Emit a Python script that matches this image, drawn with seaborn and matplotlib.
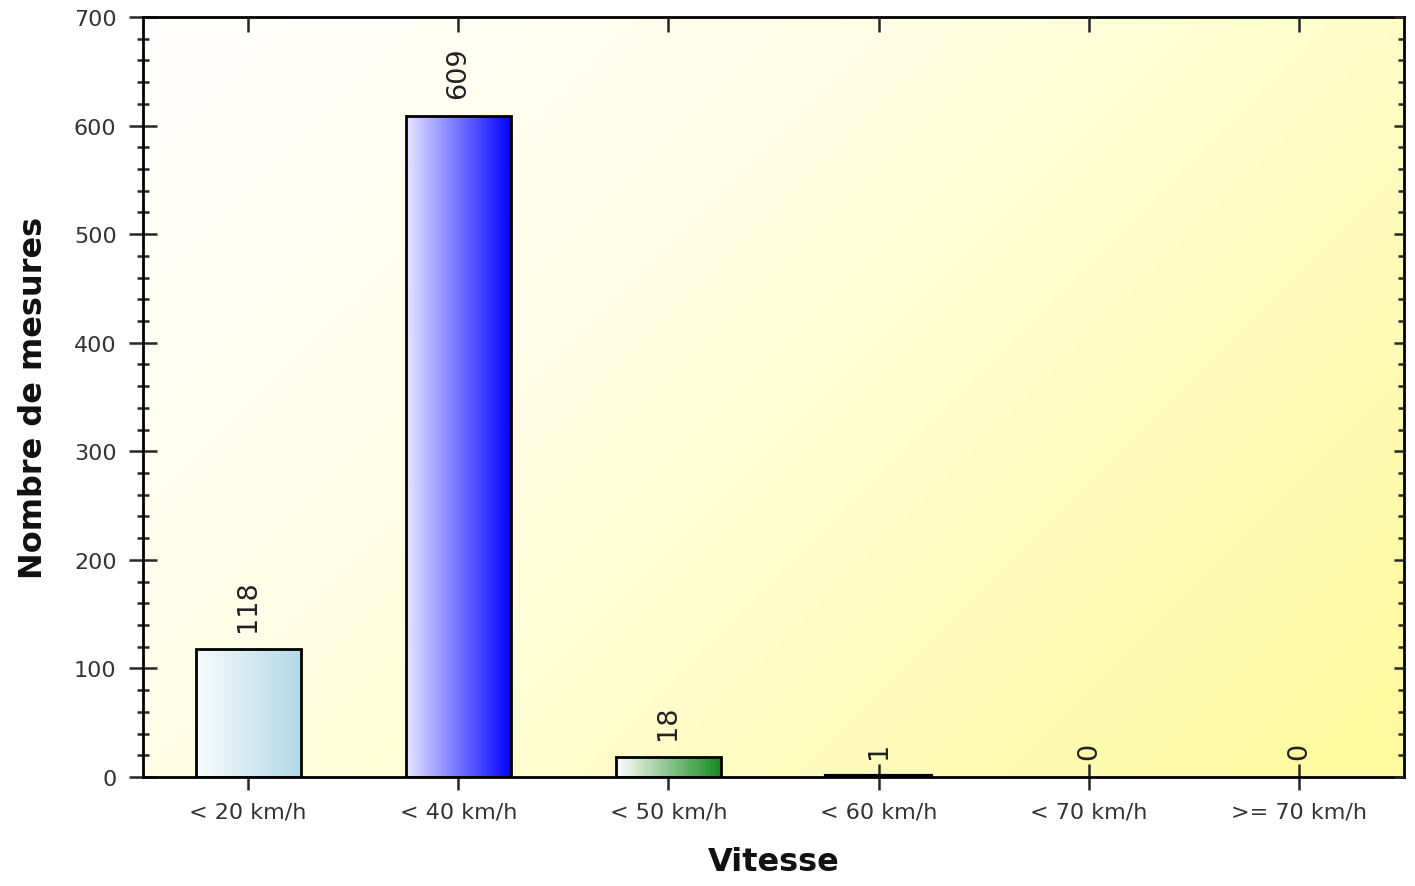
import numpy as np
import pandas as pd
import seaborn as sns
import matplotlib.pyplot as plt
from matplotlib.colors import LinearSegmentedColormap
from matplotlib.ticker import MultipleLocator

# data
categories = ["< 20 km/h", "< 40 km/h", "< 50 km/h", "< 60 km/h", "< 70 km/h", ">= 70 km/h"]
counts = [118, 609, 18, 1, 0, 0]

# gradient (left colour, right colour) for each bar
bar_gradients = [
    ("#f7fbfc", "#b2d9e5"),
    ("#e6e6ff", "#0000ff"),
    ("#ffffff", "#138a1e"),
    ("#333333", "#000000"),
    ("#ffffff", "#ffffff"),
    ("#ffffff", "#ffffff"),
]

sns.set_style("ticks")
plt.rcParams["font.family"] = ["DejaVu Sans"]

df = pd.DataFrame({"Vitesse": categories, "Nombre": counts})

fig = plt.figure(figsize=(14.15, 8.87), dpi=100)
ax = fig.add_axes([143 / 1415, 1 - 778 / 887, (1404 - 143) / 1415, (778 - 18) / 887])

sns.barplot(data=df, x="Vitesse", y="Nombre", ax=ax, width=0.5,
            edgecolor="black", linewidth=2)

xlim = (-0.5, len(categories) - 0.5)
ylim = (0, 700)

# background: white top-left to yellow bottom-right (diagonal in pixel space)
pw, ph = 1261, 760
gx, gy = np.meshgrid(np.linspace(0, pw, 400), np.linspace(0, ph, 300))
bg = (gx + (ph - gy)) / (pw + ph)
bg_cmap = LinearSegmentedColormap.from_list(
    "bg", [(0, "#ffffff"), (0.35, "#fffee8"), (0.6, "#fefdca"), (1, "#fff99c")])
ax.imshow(bg, extent=(0, 1, 0, 1), origin="lower", transform=ax.transAxes,
          cmap=bg_cmap, aspect="auto", zorder=0.5)

# horizontal gradient inside each bar
grad = np.linspace(0, 1, 256).reshape(1, -1)
for patch, (c0, c1), v in zip(ax.patches, bar_gradients, counts):
    patch.set_facecolor("none")
    patch.set_zorder(1.2)
    if v == 0:
        patch.set_linewidth(0)
        continue
    if v < 5:
        patch.set_linewidth(3)
    x0, y0 = patch.get_x(), patch.get_y()
    w, h = patch.get_width(), patch.get_height()
    cmap = LinearSegmentedColormap.from_list("bar", [c0, c1])
    im = ax.imshow(grad, extent=(x0, x0 + w, y0, y0 + h), aspect="auto",
                   cmap=cmap, zorder=1.1)
    im.set_clip_path(patch)

ax.set_xlim(*xlim)
ax.set_ylim(*ylim)

ax.bar_label(ax.containers[0], labels=[str(v) for v in counts], rotation=90,
             padding=13, fontsize=19.5, color="#222222")

# axes styling
for side in ["left", "right", "top", "bottom"]:
    ax.spines[side].set_visible(True)
    ax.spines[side].set_linewidth(2)
    ax.spines[side].set_color("black")
    ax.spines[side].set_zorder(3)

ax.yaxis.set_major_locator(MultipleLocator(100))
ax.yaxis.set_minor_locator(MultipleLocator(20))
ax.tick_params(axis="y", which="major", direction="inout", length=20, width=1.8,
               labelsize=16, labelcolor="#333333", pad=9)
ax.tick_params(axis="y", which="minor", direction="inout", length=9, width=1.8)
ax.tick_params(axis="x", which="major", direction="inout", length=19, width=1.8,
               labelsize=16, labelcolor="#333333", pad=8)

ax.set_xlabel("Vitesse", fontsize=23, fontweight="bold", labelpad=18, color="#111111")
ax.set_ylabel("Nombre de mesures", fontsize=23, fontweight="bold", labelpad=18, color="#111111")

# inner ticks on top and right
ax_top = ax.twiny()
ax_top.set_xlim(*xlim)
ax_top.set_xticks(range(len(categories)))
ax_top.tick_params(axis="x", direction="in", length=11, width=1.8, labeltop=False)

ax_right = ax.twinx()
ax_right.set_ylim(*ylim)
ax_right.yaxis.set_major_locator(MultipleLocator(100))
ax_right.yaxis.set_minor_locator(MultipleLocator(20))
ax_right.tick_params(axis="y", which="major", direction="in", length=7, width=1.8, labelright=False)
ax_right.tick_params(axis="y", which="minor", direction="in", length=4, width=1.8)
for a in (ax_top, ax_right):
    for s in a.spines.values():
        s.set_visible(False)

fig.savefig("out.png", dpi=100)
